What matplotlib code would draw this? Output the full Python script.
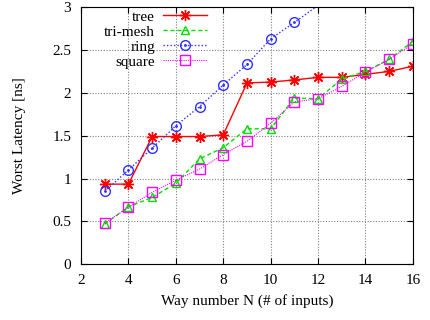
import matplotlib.pyplot as plt
from matplotlib.legend_handler import HandlerTuple

# way number N
n_inputs = [3, 4, 5, 6, 7, 8, 9, 10, 11, 12, 13, 14, 15, 16]
n_ring = [3, 4, 5, 6, 7, 8, 9, 10, 11, 12]

tree = [0.935, 0.935, 1.49, 1.49, 1.49, 1.51, 2.115, 2.125, 2.15, 2.18, 2.18, 2.215, 2.25, 2.31]
tri_mesh = [0.47, 0.67, 0.78, 0.945, 1.23, 1.36, 1.58, 1.58, 1.94, 1.93, 2.16, 2.25, 2.39, 2.6]
ring = [0.85, 1.10, 1.355, 1.615, 1.84, 2.09, 2.33, 2.63, 2.82, 3.02]
square = [0.48, 0.665, 0.84, 0.98, 1.11, 1.28, 1.435, 1.645, 1.895, 1.93, 2.075, 2.24, 2.39, 2.57]

plt.rcParams['font.family'] = ['Liberation Serif', 'DejaVu Serif']
plt.rcParams['font.size'] = 11

fig = plt.figure(figsize=(4.31, 3.2), dpi=100)
ax = fig.add_axes([0.188, 0.174, 0.770, 0.804])

h_tree, = ax.plot(n_inputs, tree, color='#ff0000', lw=1.0, marker=(8, 2, 0), ms=8, mew=1.0)
h_tri, = ax.plot(n_inputs, tri_mesh, color='#00e000', lw=1.0, ls=(0, (3, 2)),
                 marker='^', ms=6, mfc='none', mew=1.0)
# last ring point is above the range: only the line shows there
in_range = slice(0, len(ring) - 1)
h_ring, = ax.plot(n_ring, ring, color='#3030ff', lw=1.0, ls=(0, (1, 1.5)),
                  marker='o', ms=7, mfc='none', mew=1.0, markevery=in_range)
h_ring_dot, = ax.plot(n_ring[in_range], ring[in_range], color='#3030ff', ls='none',
                      marker='.', ms=2)
h_sq, = ax.plot(n_inputs, square, color='#ff00ff', lw=0.8, ls=(0, (1, 1)),
                marker='s', ms=7, mfc='none', mew=1.0)

ax.set_xlim(2, 16)
ax.set_ylim(0, 3)
ax.set_xticks(range(2, 17, 2))
ax.set_yticks([0, 0.5, 1, 1.5, 2, 2.5, 3])
ax.set_yticklabels(['0', '0.5', '1', '1.5', '2', '2.5', '3'])
ax.tick_params(direction='in', top=True, right=True, length=4, pad=7)
ax.grid(True, color='#808080', ls=(0, (1, 1.5)), lw=0.8)

ax.set_xlabel('Way number N (# of inputs)', labelpad=5)
ax.set_ylabel('Worst Latency [ns]', labelpad=19)

ax.legend([h_tree, h_tri, (h_ring, h_ring_dot), h_sq],
          ['tree', 'tri-mesh', 'ring', 'square'],
          handler_map={tuple: HandlerTuple(ndivide=1)},
          loc='upper right', bbox_to_anchor=(0.398, 1.012), frameon=False,
          markerfirst=False, numpoints=1, handlelength=2.9,
          labelspacing=0.08, handletextpad=0.5, borderaxespad=0)

fig.savefig('out.png', dpi=100)
